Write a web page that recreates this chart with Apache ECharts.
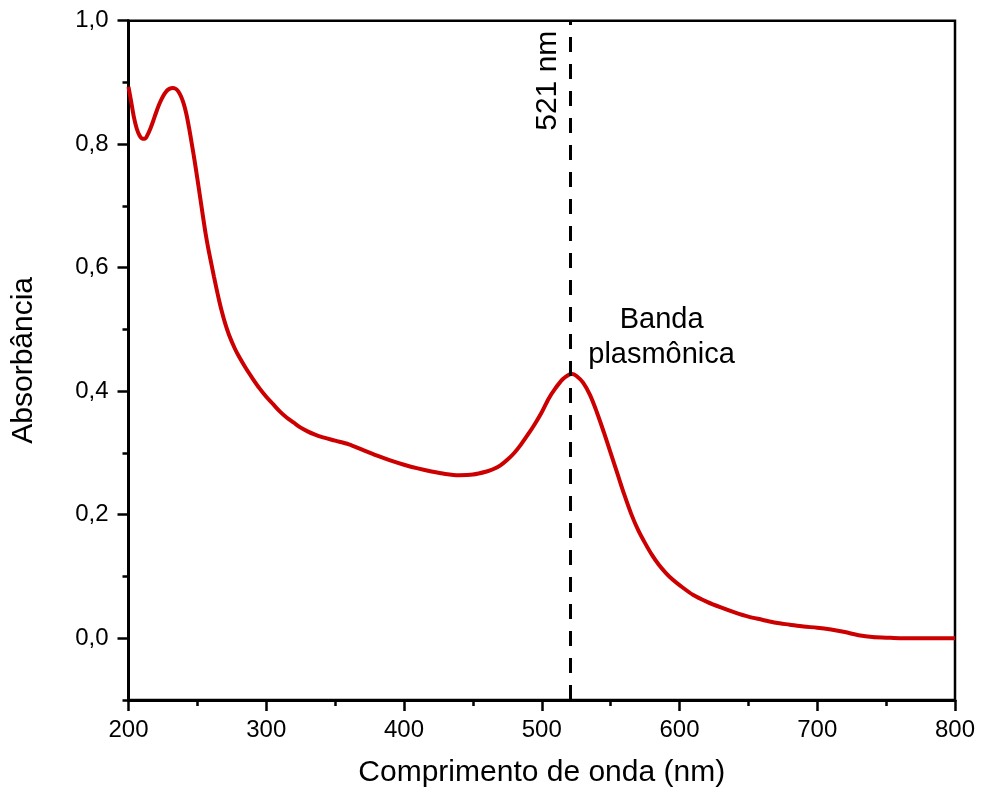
<!DOCTYPE html>
<html>
<head>
<meta charset="utf-8">
<script src="https://cdn.jsdelivr.net/npm/echarts@6/dist/echarts.min.js"></script>
<style>
html,body{margin:0;padding:0;background:#fff;}
#chart{width:981px;height:798px;}
</style>
</head>
<body>
<div id="chart"></div>
<script>
const wavelength = [200, 202, 204, 206, 208, 210, 212, 214, 216, 218, 220, 222, 224, 226, 228, 230, 232, 234, 236, 238, 240, 242, 244, 246, 248, 250, 252, 254, 256, 258, 260, 262, 264, 266, 268, 270, 273, 277, 280, 285, 290, 295, 300, 305, 310, 315, 320, 325, 330, 335, 340, 350, 360, 370, 380, 390, 400, 410, 420, 430, 440, 450, 460, 465, 470, 475, 480, 485, 490, 495, 500, 505, 510, 515, 520, 522, 525, 530, 535, 540, 545, 550, 555, 560, 565, 570, 575, 580, 585, 590, 595, 600, 610, 620, 630, 640, 650, 660, 670, 680, 690, 700, 710, 720, 730, 740, 750, 760, 780, 800];
const absorbance = [0.893, 0.868, 0.843, 0.825, 0.814, 0.809, 0.809, 0.816, 0.826, 0.838, 0.851, 0.863, 0.873, 0.881, 0.887, 0.890, 0.891, 0.890, 0.886, 0.878, 0.866, 0.849, 0.826, 0.800, 0.773, 0.744, 0.714, 0.684, 0.655, 0.630, 0.608, 0.586, 0.565, 0.545, 0.527, 0.511, 0.491, 0.470, 0.457, 0.438, 0.421, 0.405, 0.391, 0.379, 0.367, 0.357, 0.349, 0.341, 0.335, 0.330, 0.326, 0.320, 0.314, 0.305, 0.296, 0.288, 0.281, 0.275, 0.270, 0.266, 0.264, 0.265, 0.270, 0.274, 0.280, 0.289, 0.300, 0.314, 0.330, 0.347, 0.366, 0.388, 0.405, 0.419, 0.427, 0.428, 0.425, 0.414, 0.394, 0.366, 0.334, 0.300, 0.266, 0.232, 0.201, 0.175, 0.154, 0.135, 0.119, 0.106, 0.095, 0.086, 0.070, 0.059, 0.050, 0.042, 0.035, 0.030, 0.025, 0.022, 0.019, 0.017, 0.014, 0.010, 0.005, 0.002, 0.001, 0.000, 0.000, 0.000];
const yMajorTicks = [0, 0.2, 0.4, 0.6, 0.8, 1.0];
const yMinorTicks = [-0.1, 0.1, 0.3, 0.5, 0.7, 0.9];
const peakWavelength = 521;
const peakLabel = '521 nm';
const bandLabel = 'Banda\nplasmônica';
const bandLabelPos = [587, 0.487];

const FONT = "'Liberation Sans', Arial, sans-serif";
const chart = echarts.init(document.getElementById('chart'));
const data = wavelength.map((w, i) => [w, absorbance[i]]);
const fmt = v => v.toFixed(1).replace('.', ',');

chart.setOption({
  animation: false,
  backgroundColor: '#fff',
  textStyle: { fontFamily: FONT },
  grid: { left: 128.5, right: 26, top: 20.7, bottom: 98, show: true, borderColor: '#000', borderWidth: 2.5, containLabel: false },
  xAxis: {
    type: 'value', min: 200, max: 800, interval: 100,
    name: 'Comprimento de onda (nm)', nameLocation: 'middle', nameGap: 58,
    nameTextStyle: { fontSize: 30, color: '#000', fontFamily: FONT },
    axisLine: { show: true, onZero: false, lineStyle: { color: '#000', width: 3 } },
    axisTick: { show: true, length: 11, lineStyle: { color: '#000', width: 2.5 } },
    minorTick: { show: true, splitNumber: 2, length: 6, lineStyle: { color: '#000', width: 2.5 } },
    axisLabel: { fontSize: 24, color: '#000', margin: 18, fontFamily: FONT },
    splitLine: { show: false }
  },
  yAxis: [{
    type: 'value', min: -0.1, max: 1.0, interval: 0.1,
    name: 'Absorbância', nameLocation: 'middle', nameGap: 90,
    nameTextStyle: { fontSize: 30, color: '#000', fontFamily: FONT },
    axisLine: { show: true, onZero: false, lineStyle: { color: '#000', width: 3 } },
    axisTick: { show: true, length: 11, customValues: yMajorTicks, lineStyle: { color: '#000', width: 2.5 } },
    axisLabel: { fontSize: 24, color: '#000', margin: 20, customValues: yMajorTicks, formatter: fmt, fontFamily: FONT },
    splitLine: { show: false }
  }, {
    type: 'value', min: -0.1, max: 1.0, interval: 0.1, position: 'left',
    axisLine: { show: false, onZero: false },
    axisTick: { show: true, length: 6, customValues: yMinorTicks, lineStyle: { color: '#000', width: 2.5 } },
    axisLabel: { show: false },
    splitLine: { show: false }
  }],
  series: [{
    type: 'line',
    data: data,
    smooth: 0.3,
    showSymbol: false,
    lineStyle: { color: '#cc0000', width: 4 },
    markLine: {
      silent: true,
      symbol: ['none', 'none'],
      lineStyle: { color: '#000', width: 3, type: [15, 12] },
      label: { show: true, formatter: peakLabel, position: 'insideEndTop', fontSize: 30, color: '#000', fontFamily: FONT, distance: [10, 8] },
      data: [{ xAxis: peakWavelength }]
    },
    markPoint: {
      silent: true,
      symbol: 'circle', symbolSize: 1,
      itemStyle: { color: 'rgba(0,0,0,0)' },
      label: { show: true, position: 'inside', formatter: bandLabel, fontSize: 29, lineHeight: 35, color: '#000', fontFamily: FONT, align: 'center' },
      data: [{ coord: bandLabelPos }]
    }
  }]
});
</script>
</body>
</html>
